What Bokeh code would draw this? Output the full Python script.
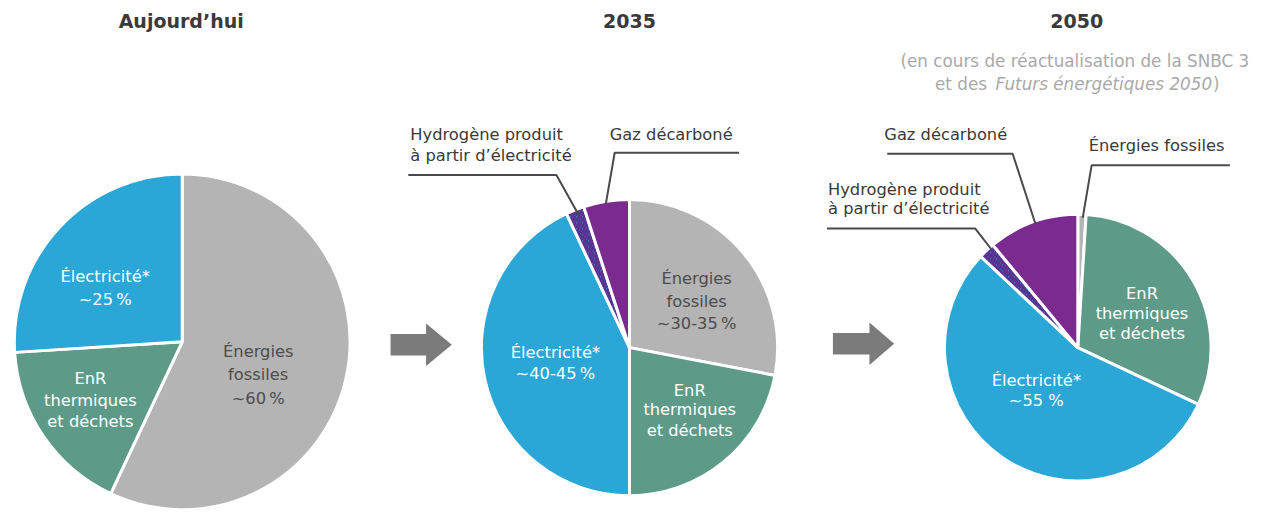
import numpy as np
from bokeh.plotting import figure
from bokeh.models import Range1d, ColumnDataSource
from bokeh.core.properties import value
from bokeh.embed import file_html
from bokeh.resources import INLINE

# ---------------- data ----------------
categories = ["Énergies fossiles", "EnR thermiques et déchets", "Électricité*",
              "Hydrogène produit à partir d’électricité", "Gaz décarboné"]
share_today = [57, 17, 26, 0, 0]
share_2035 = [28, 22, 43, 2, 5]
share_2050 = [1, 31, 55, 2, 11]
panel_titles = ["Aujourd’hui", "2035", "2050"]
subtitle_line1 = "(en cours de réactualisation de la SNBC 3"
subtitle_line2 = ["et des", "Futurs énergétiques 2050", ")"]

label_today = {"fossil": ["Énergies", "fossiles", "~60\u202f%"],
               "enr": ["EnR", "thermiques", "et déchets"],
               "elec": ["Électricité*", "~25\u202f%"]}
label_2035 = {"fossil": ["Énergies", "fossiles", "~30-35\u202f%"],
              "enr": ["EnR", "thermiques", "et déchets"],
              "elec": ["Électricité*", "~40-45\u202f%"],
              "h2": ["Hydrogène produit", "à partir d’électricité"],
              "gas": ["Gaz décarboné"]}
label_2050 = {"enr": ["EnR", "thermiques", "et déchets"],
              "elec": ["Électricité*", "~55 %"],
              "h2": ["Hydrogène produit", "à partir d’électricité"],
              "gas": ["Gaz décarboné"],
              "fossil": ["Énergies fossiles"]}

# ---------------- style ----------------
colors = ["#b4b4b4", "#5e9a88", "#2aa7d7", "#3f78c2", "#7b2a8f"]
hatches = ["blank", "blank", "blank", "/", "blank"]
FONT = value("DejaVu Sans")
TXT = "#3a3a3a"

W, H = 1258, 512          # figure size in px
RW, RH = 1274, 528        # layout coordinate space
def Y(sy):
    return RH - sy

p = figure(width=W, height=H, output_backend="svg", toolbar_location=None,
           x_range=Range1d(0, RW), y_range=Range1d(0, RH),
           x_axis_type=None, y_axis_type=None, min_border=0,
           background_fill_color="white", border_fill_color="white")
p.outline_line_color = None
p.xgrid.visible = False
p.ygrid.visible = False

# ---------------- pies ----------------
pie_layout = [((184, 352), 170), ((637, 358), 150), ((1091, 358), 135)]
for shares, ((cx, cy), r) in zip([share_today, share_2035, share_2050], pie_layout):
    s = np.array(shares, dtype=float)
    frac = s / s.sum()
    c1 = np.cumsum(frac)
    c0 = c1 - frac
    keep = frac > 0
    n = int(keep.sum())
    src = ColumnDataSource(dict(
        x=[cx] * n, y=[Y(cy)] * n,
        start=list(np.pi / 2 - 2 * np.pi * c0[keep]),
        end=list(np.pi / 2 - 2 * np.pi * c1[keep]),
        color=[c for c, k in zip(colors, keep) if k],
        hatch=[h for h, k in zip(hatches, keep) if k],
        cat=[c for c, k in zip(categories, keep) if k],
    ))
    p.wedge(x="x", y="y", radius=r, start_angle="start", end_angle="end",
            direction="clock", source=src, fill_color="color",
            line_color="white", line_width=3,
            hatch_pattern="hatch", hatch_color="#5a2f8e", hatch_scale=6,
            hatch_weight=2.5)

# ---------------- arrows ----------------
arrows = [(395, 431, 457, 355), (843, 880, 905, 354)]
xs, ys = [], []
for x0, xb, tip, cy in arrows:
    xs.append([x0, xb, xb, tip, xb, xb, x0])
    ys.append([Y(cy - 11), Y(cy - 11), Y(cy - 22), Y(cy), Y(cy + 22), Y(cy + 11), Y(cy + 11)])
p.patches(xs, ys, fill_color="#7b7b7b", line_color=None)

# ---------------- leader lines ----------------
leaders = [
    [(413, 180), (563, 180), (586, 222)],
    [(748, 157), (622, 157), (613, 210)],
    [(898, 158), (1025, 158), (1048, 230)],
    [(1245, 170), (1105, 170), (1096, 224)],
    [(837, 235), (987, 235), (1003, 256)],
]
p.multi_line([[pt[0] for pt in l] for l in leaders],
             [[Y(pt[1]) for pt in l] for l in leaders],
             line_color="#4a4a4a", line_width=2)

# ---------------- text helper ----------------
def txt(lines, x, ys_, color, size="16.3px", align="center", style="normal"):
    p.text(x=[x] * len(lines), y=[Y(v) for v in ys_], text=lines,
           text_font=FONT, text_font_size=value(size), text_color=color,
           text_align=align, text_baseline="middle", text_font_style=style)

# titles
for t, x in zip(panel_titles, [183, 637, 1090]):
    txt([t], x, [21], TXT, size="19px", style="bold")

# subtitle
SUB = "#a9a9a9"
txt([subtitle_line1], 1088, [62], SUB, size="16.8px")
txt([subtitle_line2[0]], 999, [86], SUB, size="16.8px", align="right")
txt([subtitle_line2[1]], 1227, [86], SUB, size="16.8px", align="right", style="italic")
txt([subtitle_line2[2]], 1228, [86], SUB, size="16.8px", align="left")

# pie 1 labels
txt(label_today["elec"], 106, [285, 308], "white")
txt(label_today["enr"], 91, [390, 412, 434], "white")
txt(label_today["fossil"], 261, [362, 386, 410], "#4d4d4d")

# pie 2 labels
txt(label_2035["fossil"], 705, [287, 310, 333], "#4d4d4d")
txt(label_2035["enr"], 698, [402, 422, 443], "white")
txt(label_2035["elec"], 562, [363, 385], "white")
txt(label_2035["h2"], 415, [138, 160], TXT, align="left")
txt(label_2035["gas"], 617, [138], TXT, align="left")

# pie 3 labels
txt(label_2050["enr"], 1156, [302, 323, 343], "white")
txt(label_2050["elec"], 1049, [392, 413], "white")
txt(label_2050["gas"], 895, [138], TXT, align="left")
txt(label_2050["fossil"], 1102, [150], TXT, align="left")
txt(label_2050["h2"], 838, [195, 215], TXT, align="left")

open("out.html", "w").write(file_html(p, INLINE))
